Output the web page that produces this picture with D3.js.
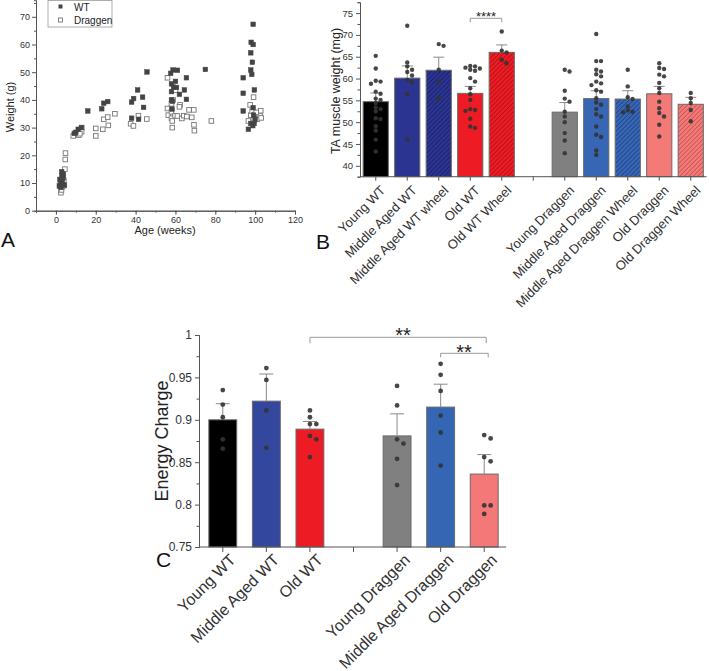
<!DOCTYPE html>
<html>
<head>
<meta charset="utf-8">
<script src="https://cdn.jsdelivr.net/npm/d3@7"></script>
<style>
  body { margin: 0; background: #fff; }
  svg { font-family: Arial, "Liberation Sans", sans-serif; display: block; }
  .axis path, .axis line { stroke: #555; }
  .axis text { fill: #333; }
</style>
</head>
<body>
<svg id="fig" width="709" height="671"></svg>
<script>
// ---- panel A : body weight vs age ----
const wtWeight = [
  [2.5, 8.5], [1.7, 8.9], [3.2, 10.1], [2.5, 10.5], [2, 11.3], [3.5, 11.8], [3, 12.5],
  [3.7, 13.2], [2.9, 14.1], [4.3, 9.2],
  [9.2, 27.9], [10, 28.3], [11.2, 29.4], [12.8, 30],
  [16, 36], [23, 36.8], [24, 38.8], [26, 39.4],
  [38, 33.4], [38, 39.2], [39, 40.5], [41, 43.6], [41.5, 33], [43.5, 41], [44, 37.3], [45.7, 50.1],
  [57.6, 49.6], [58.8, 50.8], [58, 45.8], [58, 43], [58, 40], [58.3, 36.7], [60, 46.7],
  [61, 50.7], [62, 42], [64.5, 43.6], [65.5, 48], [65.5, 40.2], [59, 44.6], [58.5, 39.5], [60.5, 44.5],
  [75, 51],
  [94, 48], [94, 42.4], [94, 36], [99, 67.3], [98, 60.8], [99, 60], [97.8, 57], [98.6, 53.6],
  [97.8, 50.8], [98.3, 49.2], [99.6, 43.6], [99, 37.2], [96.6, 29.4], [97.8, 31.5], [98.8, 30.7],
  [99.5, 31.5], [99.2, 34.5], [100, 33]
];
const draggenWeight = [
  [2.5, 6.5], [2.8, 7.5], [3, 8.5], [3.8, 9], [3.5, 10], [4, 11], [3.5, 12], [4.5, 15],
  [4.7, 18.5], [4.8, 20.8], [2.2, 9.5], [3.3, 13],
  [8.7, 27], [11.5, 27.3], [12.4, 29], [13, 30], [12.9, 28.5], [12, 27.8],
  [20, 29.7], [20, 27], [23.5, 29.4], [24, 33], [26, 33.8], [26.3, 30.8], [29.6, 35],
  [37.5, 31.4], [38.9, 30.6], [41.4, 34.3], [45.6, 33.1],
  [56, 48], [56, 36.9], [56.4, 34.5], [58, 35.7], [58, 33.4], [58.4, 32.4], [58.4, 30],
  [59.8, 34.3], [61, 34.2], [63.2, 33.3], [64.2, 34.3], [65.7, 34], [66.8, 36.4], [68.2, 33.7],
  [69.2, 36.4], [69.3, 31], [69.5, 28.9], [62.3, 38.2], [58, 38.6], [60, 43.5], [58.8, 40], [62, 37.5],
  [78, 32.4],
  [97.5, 38.2], [99.2, 41], [97.8, 34.5], [98.5, 35.9], [99.5, 32.8], [96.6, 32.4], [102.8, 36.1],
  [99.6, 34.7], [102.5, 34.2], [101, 33], [103, 33.5], [100.5, 35.5]
];

// ---- panel B : TA muscle weight ----
const taGroups = ["Young WT", "Middle Aged WT", "Middle Aged WT wheel", "Old WT", "Old WT Wheel", "",
  "Young Draggen", "Middle Aged Draggen", "Middle Aged Draggen Wheel", "Old Draggen", "Old Draggen Wheel"];
const taMean = [54.7, 60.1, 61.9, 56.6, 66.0, null, 52.3, 55.4, 55.3, 56.5, 54.1];
const taSem = [2.0, 2.8, 3.0, 1.6, 1.7, null, 2.2, 1.8, 1.9, 1.7, 1.6];
const taPoints = [
  [65.2, 62.3, 59.5, 59.3, 58.8, 57, 56.5, 55.4, 55.1, 54.4, 53.4, 53, 52.5, 50.9, 50.7, 49.1, 48.1, 46, 43.3],
  [72.1, 63.7, 62.8, 62, 61.5, 60.7, 59.7, 59.1, 56.5, 46.1],
  [67.9, 67.5, 62, 59.3, 55.5],
  [62.9, 62.8, 62.5, 62.3, 62, 61.8, 60.1, 59.3, 57.8, 56.4, 55.1, 53, 52.8, 52.6, 50.8, 49, 48.7],
  [70.8, 66.4, 66, 64.3, 63.5],
  [],
  [62, 61.6, 57.2, 55.4, 54.7, 52.4, 51.3, 50, 47.5, 45.8, 42.9],
  [70.2, 64, 64, 62, 61.6, 61, 60.5, 59.3, 58.9, 58.5, 57.3, 57, 55.5, 54.5, 54, 53, 51.8, 51.3, 49, 47.1, 46.6, 43.5, 42.5],
  [62, 58.2, 55.7, 55.3, 53.6, 52.7, 52.4, 52.3],
  [63.5, 62.4, 62.2, 60.9, 60.5, 59, 57.8, 56.7, 54.7, 53.2, 52.1, 51.3, 49.4, 46.7],
  [56.7, 55.5, 54.4, 52.8, 50.2]
];

// ---- panel C : energy charge ----
const ecGroups = ["Young WT", "Middle Aged WT", "Old WT", "", "Young Draggen", "Middle Aged Draggen", "Old Draggen"];
const ecMean = [0.900, 0.922, 0.889, null, 0.881, 0.915, 0.836];
const ecSem = [0.019, 0.032, 0.009, null, 0.026, 0.027, 0.023];
const ecPoints = [
  [0.935, 0.918, 0.903, 0.877, 0.866],
  [0.961, 0.947, 0.911, 0.867],
  [0.911, 0.903, 0.895, 0.895, 0.881, 0.877, 0.856],
  [],
  [0.94, 0.917, 0.877, 0.872, 0.854, 0.823],
  [0.966, 0.953, 0.934, 0.905, 0.885, 0.846],
  [0.882, 0.878, 0.856, 0.851, 0.799, 0.799, 0.789]
];

const taColors = ["#000000", "#2b3490", "#2b3490", "#ed1c24", "#ed1c24", "none",
  "#808080", "#3766b4", "#3766b4", "#f47a78", "#f47a78"];
const taHatch = [null, null, "#161c5c", null, "#9e0e14", null, null, null, "#1b3a7a", null, "#b84a48"];
const ecColors = ["#000000", "#34479e", "#ed1c24", "none", "#808080", "#3466b3", "#f47878"];

const svg = d3.select("#fig");
const defs = svg.append("defs");

taHatch.forEach((c, i) => {
  if (!c) return;
  const p = defs.append("pattern")
    .attr("id", "hatch" + i)
    .attr("patternUnits", "userSpaceOnUse")
    .attr("width", 3.2).attr("height", 3.2)
    .attr("patternTransform", "rotate(45)");
  p.append("rect").attr("width", 3.2).attr("height", 3.2).attr("fill", taColors[i]);
  p.append("line").attr("x1", 0).attr("y1", 0).attr("x2", 0).attr("y2", 3.2)
    .attr("stroke", c).attr("stroke-width", 1.3);
});

// simple deterministic beeswarm: push overlapping dots sideways
function swarm(values, y, cx, r, gap, overlap) {
  const placed = [];
  return values.map((v) => {
    const py = y(v);
    const d = 2 * r + gap;
    let k = 0;
    let px = cx;
    while (true) {
      const off = k === 0 ? 0 : Math.ceil(k / 2) * d * (k % 2 ? 1 : -1);
      px = cx + off;
      const hit = placed.some((p) => (p[0] - px) ** 2 + (p[1] - py) ** 2 < d * d * overlap);
      if (!hit) break;
      k++;
    }
    placed.push([px, py]);
    return [px, py];
  });
}

function panelLetter(t, x, y) {
  svg.append("text").attr("x", x).attr("y", y).attr("font-size", 21).attr("fill", "#111").text(t);
}

function drawScatter() {
  const x = d3.scaleLinear().domain([-10, 120]).range([36, 295]);
  const y = d3.scaleLinear().domain([0, 76]).range([210.7, 0.2]);
  const g = svg.append("g");

  g.append("g").attr("class", "axis").attr("transform", "translate(0,210.7)")
    .call(d3.axisBottom(x).tickValues(d3.range(-10, 121, 10)).tickSize(2).tickFormat(""))
    .call((a) => a.selectAll("text").remove());
  g.append("g").attr("class", "axis").attr("transform", "translate(0,210.7)")
    .call(d3.axisBottom(x).tickValues(d3.range(0, 121, 20)).tickSize(4).tickSizeOuter(0).tickPadding(2))
    .attr("font-size", 9);
  g.append("g").attr("class", "axis").attr("transform", "translate(36,0)")
    .call(d3.axisLeft(y).tickValues(d3.range(5, 76, 10)).tickSize(2).tickFormat(""));
  g.append("g").attr("class", "axis").attr("transform", "translate(36,0)")
    .call(d3.axisLeft(y).tickValues(d3.range(0, 71, 10)).tickSize(4).tickSizeOuter(0).tickPadding(2))
    .attr("font-size", 9);

  const s = 4.6;
  g.append("g").selectAll("rect").data(draggenWeight).join("rect")
    .attr("x", (d) => x(d[0]) - s / 2).attr("y", (d) => y(d[1]) - s / 2)
    .attr("width", s).attr("height", s)
    .attr("fill", "#fff").attr("stroke", "#777").attr("stroke-width", 0.9);
  g.append("g").selectAll("rect").data(wtWeight).join("rect")
    .attr("x", (d) => x(d[0]) - s / 2).attr("y", (d) => y(d[1]) - s / 2)
    .attr("width", s).attr("height", s)
    .attr("fill", "#444").attr("stroke", "#444").attr("stroke-width", 0.5);

  // legend
  const lg = g.append("g");
  lg.append("rect").attr("x", 48).attr("y", 0.5).attr("width", 64).attr("height", 26.5)
    .attr("fill", "#fff").attr("stroke", "#999").attr("stroke-width", 0.8);
  lg.append("rect").attr("x", 58.5).attr("y", 4.5).attr("width", 4).attr("height", 4).attr("fill", "#444");
  lg.append("rect").attr("x", 58.5).attr("y", 18).attr("width", 4).attr("height", 4)
    .attr("fill", "#fff").attr("stroke", "#777").attr("stroke-width", 0.9);
  lg.append("text").attr("x", 74).attr("y", 10.5).attr("font-size", 10).attr("fill", "#222").text("WT");
  lg.append("text").attr("x", 74).attr("y", 24).attr("font-size", 10).attr("fill", "#222").text("Draggen");

  g.append("text").attr("x", 165).attr("y", 234).attr("text-anchor", "middle")
    .attr("font-size", 11).attr("fill", "#222").text("Age (weeks)");
  g.append("text").attr("transform", "translate(14,107) rotate(-90)").attr("text-anchor", "middle")
    .attr("font-size", 11).attr("fill", "#222").text("Weight (g)");

  panelLetter("A", 1, 247);
}

function drawBars(opts) {
  const { groups, mean, sem, points, fill, x, y, r, gap, overlap, cap, dotColor } = opts;
  const g = svg.append("g");
  const bw = x.bandwidth();

  groups.forEach((name, i) => {
    if (mean[i] == null) return;
    const cx = x(name) + bw / 2;
    g.append("rect")
      .attr("x", x(name)).attr("y", y(mean[i]))
      .attr("width", bw).attr("height", y.range()[0] - y(mean[i]))
      .attr("fill", fill(i)).attr("stroke", "#6a6a6a").attr("stroke-width", 1);
    const top = y(mean[i] + sem[i]);
    g.append("line").attr("x1", cx).attr("x2", cx).attr("y1", y(mean[i])).attr("y2", top)
      .attr("stroke", "#8a8a8a").attr("stroke-width", 1);
    g.append("line").attr("x1", cx - cap / 2).attr("x2", cx + cap / 2).attr("y1", top).attr("y2", top)
      .attr("stroke", "#8a8a8a").attr("stroke-width", 1);
  });

  groups.forEach((name, i) => {
    if (!points[i].length) return;
    const pos = swarm(points[i], y, x(name) + bw / 2, r, gap, overlap);
    g.append("g").selectAll("circle").data(pos).join("circle")
      .attr("cx", (d) => d[0]).attr("cy", (d) => d[1]).attr("r", r)
      .attr("fill", dotColor).attr("fill-opacity", 0.9);
  });
  return g;
}

function bracket(x1, x2, y0, drop, label, tx, ty, fs) {
  const g = svg.append("g");
  g.append("path")
    .attr("d", `M${x1},${y0 + drop}V${y0}H${x2}V${y0 + drop}`)
    .attr("fill", "none").attr("stroke", "#999").attr("stroke-width", 1);
  g.append("text").attr("x", tx).attr("y", ty).attr("text-anchor", "middle")
    .attr("font-size", fs).attr("fill", "#222").text(label);
}

function drawMuscle() {
  const x = d3.scaleBand().domain(taGroups).range([360, 706.5]).paddingInner(0.2).paddingOuter(0.1);
  const y = d3.scaleLinear().domain([37.5, 77.5]).range([176.7, 2.2]);

  const ax = svg.append("g");
  ax.append("g").attr("class", "axis").attr("transform", "translate(360,0)")
    .call(d3.axisLeft(y).tickValues(d3.range(37.5, 78, 5)).tickSize(2.5).tickFormat(""));
  ax.append("g").attr("class", "axis").attr("transform", "translate(360,0)")
    .call(d3.axisLeft(y).tickValues(d3.range(40, 76, 5)).tickSize(4).tickSizeOuter(0).tickPadding(3))
    .attr("font-size", 9.5);

  drawBars({
    groups: taGroups, mean: taMean, sem: taSem, points: taPoints,
    fill: (i) => (taHatch[i] ? "url(#hatch" + i + ")" : taColors[i]),
    x, y, r: 2.2, gap: 0.4, overlap: 0.55, cap: 11, dotColor: "#333"
  });

  const xa = svg.append("g").attr("class", "axis").attr("transform", "translate(0,176.7)")
    .call(d3.axisBottom(x).tickSize(4).tickSizeOuter(0).tickFormat(""));
  xa.select(".domain").attr("d", "M360,0H706.5");
  xa.selectAll(".tick").append("text")
    .attr("transform", "translate(4,8) rotate(-45)")
    .attr("text-anchor", "end").attr("dy", "0.7em")
    .attr("font-size", 13).attr("fill", "#222")
    .text((d) => d);

  svg.append("text").attr("transform", "translate(340,91) rotate(-90)").attr("text-anchor", "middle")
    .attr("font-size", 12.5).attr("fill", "#222").text("TA muscle weight (mg)");

  const c = (n) => x(n) + x.bandwidth() / 2;
  bracket(c("Old WT"), c("Old WT Wheel"), 18.3, 4, "****", (c("Old WT") + c("Old WT Wheel")) / 2, 21, 13);

  panelLetter("B", 316, 249);
}

function drawEnergy() {
  const x = d3.scaleBand().domain(ecGroups).range([201, 506]).paddingInner(0.36).paddingOuter(0.18);
  const y = d3.scaleLinear().domain([0.75, 1]).range([547, 335]);

  const ax = svg.append("g");
  ax.append("g").attr("class", "axis").attr("transform", "translate(199,0)")
    .call(d3.axisLeft(y).tickValues(d3.range(0.775, 1, 0.05)).tickSize(2.5).tickFormat(""));
  ax.append("g").attr("class", "axis").attr("transform", "translate(199,0)")
    .call(d3.axisLeft(y).tickValues([0.75, 0.8, 0.85, 0.9, 0.95, 1]).tickSize(4).tickSizeOuter(0)
      .tickPadding(3).tickFormat((d) => String(+d.toFixed(2))))
    .attr("font-size", 12);

  drawBars({
    groups: ecGroups, mean: ecMean, sem: ecSem, points: ecPoints,
    fill: (i) => ecColors[i],
    x, y, r: 2.4, gap: 1.6, overlap: 0.9, cap: 14, dotColor: "#333"
  });

  const xa = svg.append("g").attr("class", "axis").attr("transform", "translate(0,547)")
    .call(d3.axisBottom(x).tickSize(5).tickSizeOuter(0).tickFormat(""));
  xa.select(".domain").attr("d", "M199,0H506");
  xa.selectAll(".tick").append("text")
    .attr("transform", "translate(6,6) rotate(-45)")
    .attr("text-anchor", "end").attr("dy", "0.7em")
    .attr("font-size", 16).attr("fill", "#222")
    .text((d) => d);

  svg.append("text").attr("transform", "translate(168,441) rotate(-90)").attr("text-anchor", "middle")
    .attr("font-size", 18).attr("fill", "#222").text("Energy Charge");

  const c = (n) => x(n) + x.bandwidth() / 2;
  bracket(c("Old WT"), c("Old Draggen") + 2, 337.3, 6, "**", 403, 342, 20);
  bracket(c("Middle Aged Draggen"), c("Old Draggen") + 4, 353.3, 4, "**", 464, 359, 20);

  panelLetter("C", 156, 567);
}

drawScatter();
drawMuscle();
drawEnergy();
</script>
</body>
</html>
